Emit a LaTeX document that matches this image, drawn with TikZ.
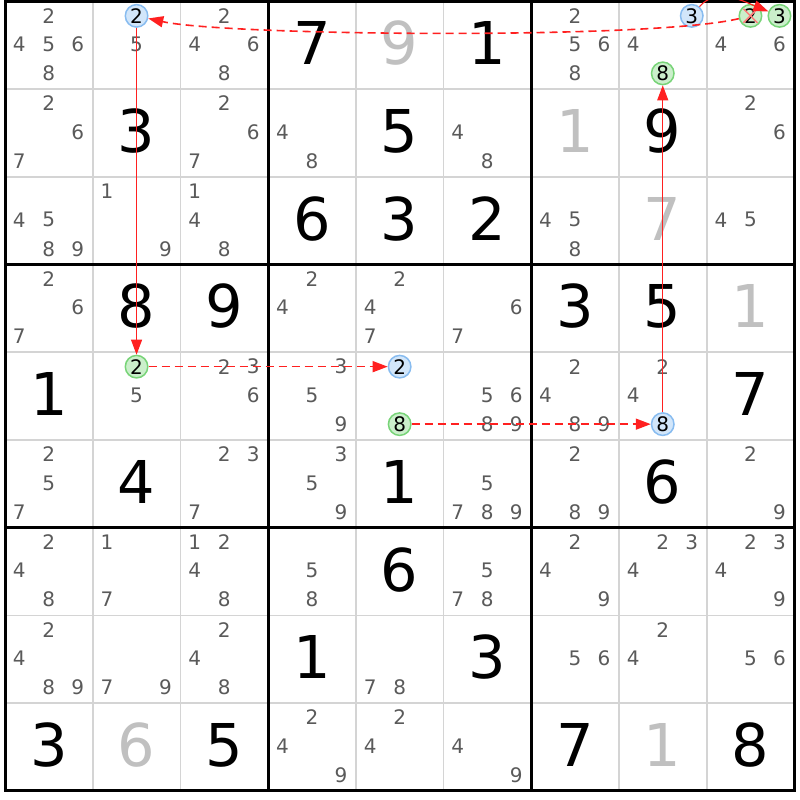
\documentclass[tikz,border=0pt]{standalone}
\usepackage{fontspec}
\setmainfont{DejaVu Sans}
\usetikzlibrary{arrows.meta}
\definecolor{candgray}{HTML}{5A5A5A}
\definecolor{givgray}{HTML}{C0C0C0}
\definecolor{gridgray}{HTML}{D4D4D4}
\definecolor{hlblue}{HTML}{D2E6FA}
\definecolor{hlbluedraw}{HTML}{88BCF0}
\definecolor{hlgreen}{HTML}{CBEFCB}
\definecolor{hlgreendraw}{HTML}{78D478}
\definecolor{linkred}{HTML}{FF2020}
\definecolor{crossred}{HTML}{FF7A7A}
\tikzset{
  cand/.style={text=candgray, font=\fontsize{20}{20}\selectfont, inner sep=0pt},
  hlb/.style={cand, text=black, circle, draw=hlbluedraw, fill=hlblue, line width=1.5pt, minimum size=22.5pt},
  hlg/.style={hlb, draw=hlgreendraw, fill=hlgreen},
  giv/.style={font=\fontsize{59}{59}\selectfont, inner sep=0pt, text=black},
  givg/.style={giv, text=givgray},
  thingrid/.style={draw=gridgray, line width=1.8pt},
  thickgrid/.style={draw=black, line width=3pt},
  strong/.style={draw=linkred, line width=1.1pt, -{Triangle[length=15pt,width=11pt]}},
  weak/.style={strong, line width=1.6pt, dash pattern=on 8pt off 5pt},
}
\newcommand\cdx[1]{\ifcase#1\or-29.5\or0\or29\or-29.5\or0\or29\or-29.5\or0\or29\fi}
\newcommand\cdy[1]{\ifcase#1\or-29.5\or-29.5\or-29.5\or-1\or-1\or-1\or28\or28\or28\fi}
\newcommand\cand[4][cand]{%
  \edef\dxv{\cdx{#4}}\edef\dyv{\cdy{#4}}%
  \pgfmathsetmacro\cpx{5+87.7*(#3+0.5)+\dxv}%
  \pgfmathsetmacro\cpy{1.5+87.7*(#2+0.5)+\dyv}%
  \node[#1] (n#2#3#4) at (\cpx,\cpy) {#4};}
\newcommand\cands[3]{\foreach \dd in {#3} {\cand{#1}{#2}{\dd}}}
\newcommand\giv[4][giv]{%
  \pgfmathsetmacro\cpx{5+87.7*(#3+0.5)}%
  \pgfmathsetmacro\cpy{1.5+87.7*(#2+0.5)-2}%
  \node[#1] (g#2#3) at (\cpx,\cpy) {#4};}
\begin{document}
\begin{tikzpicture}[x=1pt,y=-1pt]
\useasboundingbox (0,0) rectangle (800,800);
\fill[white] (0,0) rectangle (800,800);
% grid
\foreach \i in {1,2,4,5,7,8} {
  \pgfmathsetmacro\gx{5+87.7*\i}
  \draw[thingrid] (\gx,1.5) -- (\gx,790.8);
  \draw[thingrid] (5,\gx-3.5) -- (794.3,\gx-3.5);
}
\foreach \i in {3,6} {
  \pgfmathsetmacro\gx{5+87.7*\i}
  \draw[thickgrid] (\gx,1.5) -- (\gx,790.8);
  \draw[thickgrid] (5,\gx-3.5) -- (794.3,\gx-3.5);
}
\draw[thickgrid] (5,1.5) rectangle (794.3,790.8);
% row 0
\cands{0}{0}{2,4,5,6,8}
\cand[hlb]{0}{1}{2} \cands{0}{1}{5}
\cands{0}{2}{2,4,6,8}
\giv{0}{3}{7} \giv[givg]{0}{4}{9} \giv{0}{5}{1}
\cands{0}{6}{2,5,6,8}
\cand[hlb]{0}{7}{3} \cands{0}{7}{4} \cand[hlg]{0}{7}{8}
\cand[hlg]{0}{8}{2} \cand[hlg]{0}{8}{3} \cands{0}{8}{4,6}
% row 1
\cands{1}{0}{2,6,7} \giv{1}{1}{3} \cands{1}{2}{2,6,7} \cands{1}{3}{4,8} \giv{1}{4}{5}
\cands{1}{5}{4,8} \giv[givg]{1}{6}{1} \giv{1}{7}{9} \cands{1}{8}{2,6}
% row 2
\cands{2}{0}{4,5,8,9} \cands{2}{1}{1,9} \cands{2}{2}{1,4,8} \giv{2}{3}{6} \giv{2}{4}{3}
\giv{2}{5}{2} \cands{2}{6}{4,5,8} \giv[givg]{2}{7}{7} \cands{2}{8}{4,5}
% row 3
\cands{3}{0}{2,6,7} \giv{3}{1}{8} \giv{3}{2}{9} \cands{3}{3}{2,4} \cands{3}{4}{2,4,7}
\cands{3}{5}{6,7} \giv{3}{6}{3} \giv{3}{7}{5} \giv[givg]{3}{8}{1}
% row 4
\giv{4}{0}{1} \cand[hlg]{4}{1}{2} \cands{4}{1}{5} \cands{4}{2}{2,3,6} \cands{4}{3}{3,5,9}
\cand[hlb]{4}{4}{2} \cand[hlg]{4}{4}{8} \cands{4}{5}{5,6,8,9} \cands{4}{6}{2,4,8,9}
\cands{4}{7}{2,4} \cand[hlb]{4}{7}{8} \giv{4}{8}{7}
% row 5
\cands{5}{0}{2,5,7} \giv{5}{1}{4} \cands{5}{2}{2,3,7} \cands{5}{3}{3,5,9} \giv{5}{4}{1}
\cands{5}{5}{5,7,8,9} \cands{5}{6}{2,8,9} \giv{5}{7}{6} \cands{5}{8}{2,9}
% row 6
\cands{6}{0}{2,4,8} \cands{6}{1}{1,7} \cands{6}{2}{1,2,4,8} \cands{6}{3}{5,8} \giv{6}{4}{6}
\cands{6}{5}{5,7,8} \cands{6}{6}{2,4,9} \cands{6}{7}{2,3,4} \cands{6}{8}{2,3,4,9}
% row 7
\cands{7}{0}{2,4,8,9} \cands{7}{1}{7,9} \cands{7}{2}{2,4,8} \giv{7}{3}{1} \cands{7}{4}{7,8}
\giv{7}{5}{3} \cands{7}{6}{5,6} \cands{7}{7}{2,4} \cands{7}{8}{5,6}
% row 8
\giv{8}{0}{3} \giv[givg]{8}{1}{6} \giv{8}{2}{5} \cands{8}{3}{2,4,9} \cands{8}{4}{2,4}
\cands{8}{5}{4,9} \giv{8}{6}{7} \giv[givg]{8}{7}{1} \giv{8}{8}{8}
% elimination cross
\draw[crossred, line width=1.5pt] ([shift={(-7,-7)}]n082.center) -- ([shift={(7,7)}]n082.center);
\draw[crossred, line width=1.5pt] ([shift={(-7,7)}]n082.center) -- ([shift={(7,-7)}]n082.center);
% chain
\draw[strong] (n012) -- (n412);
\draw[weak] (n412) -- (n442);
\draw[weak] (n448) -- (n478);
\draw[strong] (n478) -- (n078);
\draw[strong] (n073) .. controls +(25,-30) and +(-30,-12) .. (n083);
\draw[weak] (n082) .. controls +(-100,24) and +(90,20) .. (n012);
\end{tikzpicture}
\end{document}
